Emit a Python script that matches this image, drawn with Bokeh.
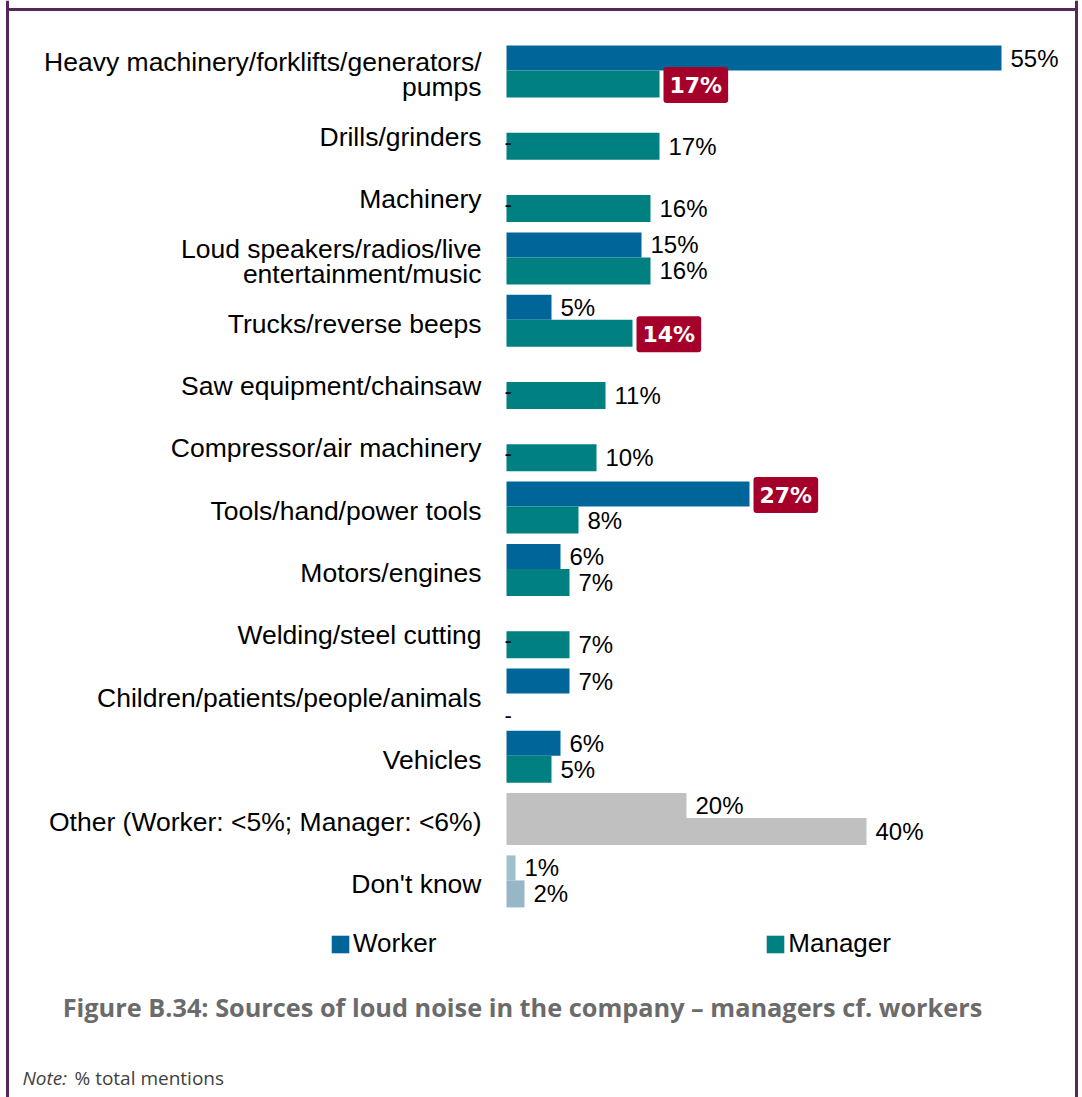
from bokeh.plotting import figure
from bokeh.models import ColumnDataSource, Range1d, Legend, LegendItem, Span
from bokeh.core.properties import value
from bokeh.embed import file_html
from bokeh.resources import INLINE

# ---------------- data ----------------
categories = [
    "Heavy machinery/forklifts/generators/\npumps",
    "Drills/grinders",
    "Machinery",
    "Loud speakers/radios/live\nentertainment/music",
    "Trucks/reverse beeps",
    "Saw equipment/chainsaw",
    "Compressor/air machinery",
    "Tools/hand/power tools",
    "Motors/engines",
    "Welding/steel cutting",
    "Children/patients/people/animals",
    "Vehicles",
    "Other (Worker: <5%; Manager: <6%)",
    "Don't know",
]
worker = [55, 0, 0, 15, 5, 0, 0, 27, 6, 0, 7, 6, 20, 1]
manager = [17, 17, 16, 16, 14, 11, 10, 8, 7, 7, 0, 5, 40, 2]
series = ["Worker", "Manager"]
highlight_worker = ["Tools/hand/power tools"]
highlight_manager = ["Heavy machinery/forklifts/generators/\npumps", "Trucks/reverse beeps"]
title_text = "Figure B.34: Sources of loud noise in the company \u2013 managers cf. workers"
note_label = "Note:"
note_text = "% total mentions"

# ---------------- layout / style ----------------
W, H = 1082, 1097
PXPCT = 9.0          # pixels per percentage point
X0 = 506             # canvas x of 0%
ROW = 62.3           # pixels per category row
Y0 = 70              # canvas y of first group's centre line
BLUE, TEAL = "#006699", "#008080"
RED = "#a5002a"
FONT = "Liberation Sans"

def px(cx):
    return (cx - X0) / PXPCT

def py(cy):
    return (cy - Y0) / ROW

n = len(categories)
idx = list(range(n))
w_col = [BLUE] * n
m_col = [TEAL] * n
w_col[-2], m_col[-2] = "#c0c0c0", "#c0c0c0"
w_col[-1], m_col[-1] = "#9dc0cd", "#97b7c7"

w_h, m_h = 25 / ROW, 27 / ROW
w_y = [i - w_h / 2 for i in idx]
m_y = [i + m_h / 2 for i in idx]

p = figure(width=W, height=H, output_backend="svg", toolbar_location=None,
           x_range=Range1d(px(0), px(W)), y_range=Range1d(py(H), py(0)),
           x_axis_location=None, y_axis_location=None, min_border=0,
           background_fill_color="white", border_fill_color="white")
p.grid.visible = False
p.outline_line_color = None

wsrc = ColumnDataSource(dict(cat=categories, y=w_y, v=worker, c=w_col))
msrc = ColumnDataSource(dict(cat=categories, y=m_y, v=manager, c=m_col))
rw = p.hbar(y="y", left=0, right="v", height=w_h, fill_color="c", line_color=None, source=wsrc)
rm = p.hbar(y="y", left=0, right="v", height=m_h, fill_color="c", line_color=None, source=msrc)

# category labels
p.text(x=[0] * n, y=[i + 4 / ROW for i in idx], text=categories, x_offset=-25,
       text_align="right", text_baseline="middle", text_font=value(FONT),
       text_font_size="26.5px", text_color="#000000", text_line_height=0.84)

# value labels
def add_values(vals, ys, hl, dash_dy):
    nx, ny, nt = [], [], []
    hx, hy, ht = [], [], []
    dx_, dy_ = [], []
    for c, v, y in zip(categories, vals, ys):
        if v == 0:
            dx_.append(0); dy_.append(y + dash_dy / ROW)
        elif c in hl:
            hx.append(v); hy.append(y); ht.append(f"{v}%")
        else:
            nx.append(v); ny.append(y); nt.append(f"{v}%")
    p.text(x=nx, y=ny, text=nt, x_offset=9, text_align="left", text_baseline="middle",
           text_font=value(FONT), text_font_size="24px", text_color="#000000")
    if hx:
        p.text(x=hx, y=hy, text=ht, x_offset=4, y_offset=1, text_align="left",
               text_baseline="middle",
               text_font=value("DejaVu Sans"), text_font_style="bold", text_font_size="22px",
               text_color="white", background_fill_color=RED,
               padding=dict(left=6, right=6, top=6, bottom=5), border_radius=3)
    if dx_:
        p.text(x=dx_, y=dy_, text=["-"] * len(dx_), x_offset=-2, text_align="left",
               text_baseline="middle", text_font=value(FONT), text_font_size="22px",
               text_color="#000000")

add_values(worker, w_y, highlight_worker, 22)
add_values(manager, m_y, highlight_manager, 8)

# legend
legend = Legend(items=[LegendItem(label=series[0], renderers=[rw], index=0),
                       LegendItem(label=series[1], renderers=[rm], index=0)],
                orientation="horizontal", location=(329, 138),
                glyph_width=22, glyph_height=22, label_standoff=2, spacing=328,
                padding=0, margin=0, border_line_color=None, background_fill_alpha=0,
                label_text_font=FONT, label_text_font_size="26px", label_text_color="#000000")
p.add_layout(legend)

# title and note
p.text(x=[px(522)], y=[py(1006)], text=[title_text], text_align="center", text_baseline="middle",
       text_font=value("Open Sans"), text_font_style="bold", text_font_size="25.3px",
       text_color="#6b6b6b")
p.text(x=[px(22)], y=[py(1077)], text=[note_label], text_align="left", text_baseline="middle",
       text_font=value("Open Sans"), text_font_style="italic", text_font_size="19px",
       text_color="#404040")
p.text(x=[px(74)], y=[py(1077)], text=[note_text], text_align="left", text_baseline="middle",
       text_font=value("Open Sans"), text_font_size="19px", text_color="#404040")

# frame lines
FRAME = "#56285a"
p.segment(x0=[px(5.5)], x1=[px(1077.5)], y0=[py(9)], y1=[py(9)], line_color=FRAME, line_width=3)
p.add_layout(Span(location=px(7), dimension="height", line_color=FRAME, line_width=3))
p.add_layout(Span(location=px(1076), dimension="height", line_color=FRAME, line_width=3))

open("out.html", "w").write(file_html(p, INLINE))
